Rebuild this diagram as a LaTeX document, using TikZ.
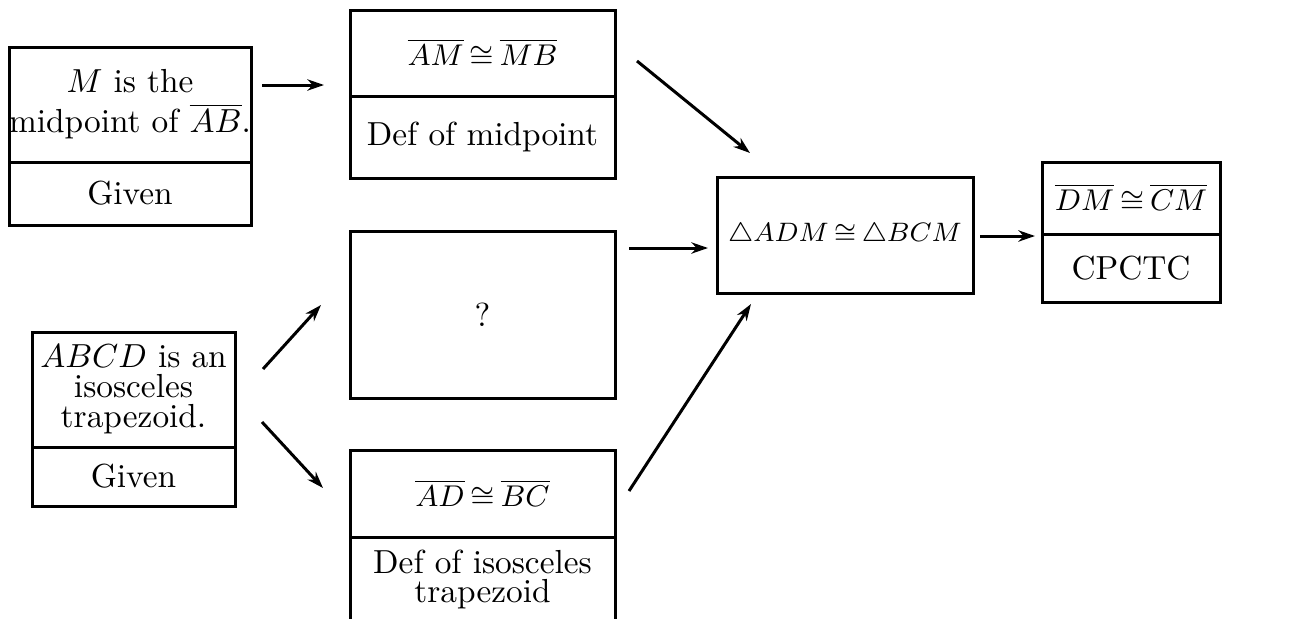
\documentclass[tikz,border=0pt]{standalone}
\usepackage{amsmath,amssymb}
\usetikzlibrary{arrows.meta,positioning}
\newcommand{\cng}{\mathrel{\mkern-1.5mu\cong\mkern-1.5mu}}

\begin{document}
\begin{tikzpicture}[x=0.3pt,y=-0.3pt,
    box/.style={draw, line width=0.9pt, inner sep=0pt, align=center},
    mathbox/.style={box, font=\fontsize{9}{11}\selectfont},
    arr/.style={-{Stealth[length=5pt,width=3.4pt,inset=1.6pt]}, line width=0.9pt}]
    \useasboundingbox (0,0) rectangle (1296,618);

    % given: midpoint
    \node[box, minimum width=72.6pt, minimum height=34.5pt] (midgiven) at (130,104.5) {$M$ is the\\ midpoint of $\overline{AB}$.};
    \node[box, minimum width=72.6pt, minimum height=18.9pt] (midgivenr) at (130,193.5) {Given};

    % given: trapezoid
    \node[box, minimum width=60.9pt, minimum height=34.5pt] (trapgiven) at (133.5,389.5) {$ABCD$ is an\\[-3pt] isosceles\\[-3pt] trapezoid.};
    \node[box, minimum width=60.9pt, minimum height=17.7pt] (trapgivenr) at (133.5,476.5) {Given};

    % middle column
    \node[mathbox, minimum width=79.5pt, minimum height=25.8pt] (am) at (482.5,53) {$\overline{AM}\cng\overline{MB}$};
    \node[box, minimum width=79.5pt, minimum height=24.6pt] (amr) at (482.5,137) {Def of midpoint};

    \node[box, minimum width=79.5pt, minimum height=50.1pt] (unknown) at (482.5,314.5) {?};

    \node[mathbox, minimum width=79.5pt, minimum height=26.1pt] (ad) at (482.5,493.5) {$\overline{AD}\cng\overline{BC}$};
    \node[box, minimum width=79.5pt, minimum height=25.5pt] (adr) at (482.5,579.5) {Def of isosceles\\[-3.5pt] trapezoid};

    % triangles
    \node[mathbox, font=\fontsize{8.5}{10}\selectfont, minimum width=76.8pt, minimum height=34.8pt] (tri) at (845,235) {$\triangle ADM\cng\triangle BCM$};

    % conclusion
    \node[mathbox, minimum width=53.4pt, minimum height=21.6pt] (dm) at (1131,198) {$\overline{DM}\cng\overline{CM}$};
    \node[box, minimum width=53.4pt, minimum height=20.4pt] (dmr) at (1131,268) {CPCTC};

    % arrow ends
    \coordinate (a1s) at (262,85);   \coordinate (a1e) at (324,85);
    \coordinate (a2s) at (637,61);   \coordinate (a2e) at (750,153);
    \coordinate (a3s) at (629,248);  \coordinate (a3e) at (708,248);
    \coordinate (a4s) at (263,369);  \coordinate (a4e) at (321,305);
    \coordinate (a5s) at (262,422);  \coordinate (a5e) at (323,488);
    \coordinate (a6s) at (629,491);  \coordinate (a6e) at (751,304);
    \coordinate (a7s) at (980,236);  \coordinate (a7e) at (1035,236);

    \draw[arr] (a1s) -- (a1e);
    \draw[arr] (a2s) -- (a2e);
    \draw[arr] (a3s) -- (a3e);
    \draw[arr] (a4s) -- (a4e);
    \draw[arr] (a5s) -- (a5e);
    \draw[arr] (a6s) -- (a6e);
    \draw[arr] (a7s) -- (a7e);
\end{tikzpicture}
\end{document}
